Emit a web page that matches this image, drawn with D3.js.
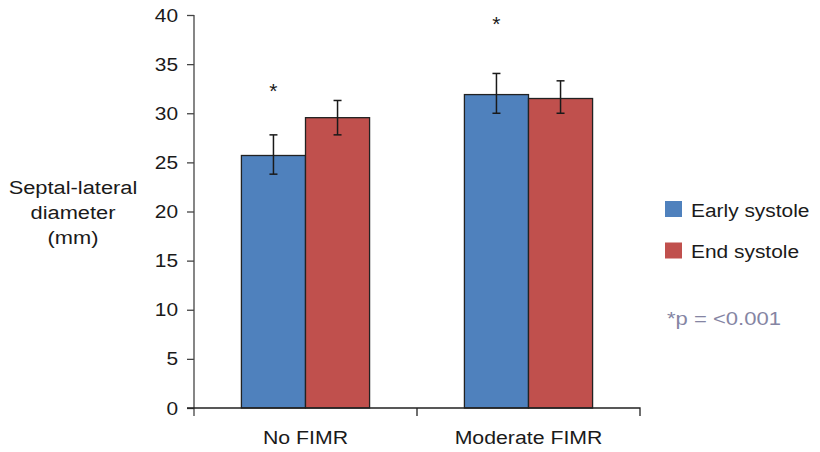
<!DOCTYPE html>
<html>
<head>
<meta charset="utf-8">
<script src="https://cdn.jsdelivr.net/npm/d3@7"></script>
<style>
  body { margin: 0; background: #fff; }
  text { font-family: "Liberation Sans", Arial, sans-serif; fill: #1a1a1a; }
</style>
</head>
<body>
<div id="chart"></div>
<script>
// Septal-lateral diameter, early vs end systole //
const width = 820;
const height = 452;

const categories = ["No FIMR", "Moderate FIMR"];
const seriesNames = ["Early systole", "End systole"];
const earlySystole = [25.7, 31.9];
const endSystole = [29.55, 31.5];
const earlyLow = [23.8, 30.0];
const earlyHigh = [27.8, 34.05];
const endLow = [27.8, 30.0];
const endHigh = [31.3, 33.3];
const starValues = [32.8, 39.6];   // where the * marks sit
const yTicks = [0, 5, 10, 15, 20, 25, 30, 35, 40];
const colors = ["#4f81bd", "#c0504d"];

const margin = { left: 194, right: 180, top: 15, bottom: 44 };

// the original lettering is a little wider than Liberation Sans
function stretch(sel, s) {
  sel.each(function() {
    const t = d3.select(this);
    const x0 = +t.attr("x") || 0;
    t.attr("transform", `translate(${x0 * (1 - s)},0) scale(${s},1)`);
  });
}

const svg = d3.select("#chart")
  .append("svg")
  .attr("width", width)
  .attr("height", height);

const x = d3.scaleBand()
  .domain(categories)
  .range([margin.left, width - margin.right]);

const x1 = d3.scaleBand()
  .domain(seriesNames)
  .range([0, x.bandwidth()])
  .paddingOuter(0.74)
  .paddingInner(0);

const y = d3.scaleLinear()
  .domain([0, 40])
  .range([height - margin.bottom, margin.top]);

const rows = [];
categories.forEach((c, i) => {
  rows.push({ cat: c, s: seriesNames[0], v: earlySystole[i], lo: earlyLow[i], hi: earlyHigh[i], color: colors[0] });
  rows.push({ cat: c, s: seriesNames[1], v: endSystole[i], lo: endLow[i], hi: endHigh[i], color: colors[1] });
});

// bars
svg.selectAll(".bar")
  .data(rows)
  .enter()
  .append("rect")
  .attr("class", "bar")
  .attr("x", d => x(d.cat) + x1(d.s))
  .attr("y", d => y(d.v))
  .attr("width", x1.bandwidth())
  .attr("height", d => y(0) - y(d.v))
  .attr("fill", d => d.color)
  .attr("stroke", "#222")
  .attr("stroke-width", 1.3);

// error bars
const err = svg.selectAll(".err")
  .data(rows)
  .enter()
  .append("g")
  .attr("class", "err")
  .attr("transform", d => `translate(${x(d.cat) + x1(d.s) + x1.bandwidth() / 2},0)`)
  .attr("stroke", "#1a1a1a")
  .attr("stroke-width", 1.5);

err.append("line").attr("y1", d => y(d.lo)).attr("y2", d => y(d.hi));
err.append("line").attr("x1", -4).attr("x2", 4).attr("y1", d => y(d.hi)).attr("y2", d => y(d.hi));
err.append("line").attr("x1", -4).attr("x2", 4).attr("y1", d => y(d.lo)).attr("y2", d => y(d.lo));

// significance stars above early systole bars
svg.selectAll(".star")
  .data(categories)
  .enter()
  .append("text")
  .attr("class", "star")
  .attr("x", (d) => x(d) + x1(seriesNames[0]) + x1.bandwidth() / 2)
  .attr("y", (d, i) => y(starValues[i]) + 12)
  .attr("text-anchor", "middle")
  .style("font-size", "21px")
  .text("*");

// y axis
const yAxis = svg.append("g")
  .attr("transform", `translate(${margin.left},0)`)
  .call(d3.axisLeft(y).tickValues(yTicks).tickSize(7).tickPadding(9).tickSizeOuter(0));
yAxis.select(".domain").attr("stroke", "#444").attr("stroke-width", 1.3)
  .attr("d", `M0,${y(40)}V${y(0) + 8}`);
yAxis.selectAll(".tick line").attr("stroke", "#444").attr("stroke-width", 1.3);
yAxis.selectAll(".tick text").style("font-size", "19px").attr("fill", "#1a1a1a")
  .call(stretch, 1.1);

// x axis
const xAxis = svg.append("g")
  .attr("transform", `translate(0,${y(0)})`)
  .call(d3.axisBottom(x).tickSize(0).tickPadding(23).tickSizeOuter(0));
xAxis.select(".domain").attr("stroke", "#222").attr("stroke-width", 1.3)
  .attr("d", `M${margin.left - 7},0H${width - margin.right}V8`);
xAxis.selectAll(".tick text").style("font-size", "19px").attr("fill", "#1a1a1a")
  .call(stretch, 1.12);

// divider tick between categories
xAxis.append("line")
  .attr("x1", x(categories[1])).attr("x2", x(categories[1]))
  .attr("y1", 0).attr("y2", 8)
  .attr("stroke", "#222").attr("stroke-width", 1.3);

// y axis title
const title = svg.append("text")
  .attr("x", 73)
  .attr("text-anchor", "middle")
  .style("font-size", "19px");
["Septal-lateral", "diameter", "(mm)"].forEach((t, i) => {
  title.append("tspan").attr("x", 73).attr("y", 194 + i * 25).text(t);
});
title.call(stretch, 1.15);

// legend
const legend = svg.selectAll(".legend")
  .data(seriesNames)
  .enter()
  .append("g")
  .attr("class", "legend")
  .attr("transform", (d, i) => `translate(665,${201 + i * 41.5})`);
legend.append("rect")
  .attr("width", 17).attr("height", 16)
  .attr("fill", (d, i) => colors[i]);
legend.append("text")
  .attr("x", 26).attr("y", 15.5)
  .style("font-size", "19px")
  .text(d => d)
  .call(stretch, 1.1);

svg.append("text")
  .attr("x", 667).attr("y", 325)
  .style("font-size", "19px")
  .style("fill", "#8585a3")
  .text("*p = <0.001")
  .call(stretch, 1.16);
</script>
</body>
</html>
